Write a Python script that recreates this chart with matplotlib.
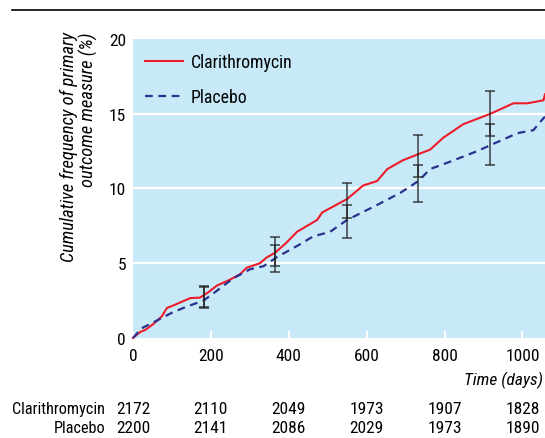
import matplotlib
matplotlib.use('Agg')
import matplotlib.pyplot as plt
from matplotlib import font_manager
from matplotlib.lines import Line2D
import matplotlib.transforms as mtransforms

# data
clar_days = [0, 18, 31, 52, 74, 87, 112, 147, 172, 193, 215, 249, 275, 292, 326, 344, 365,
             395, 421, 473, 486, 550, 591, 627, 653, 694, 733, 763, 797, 848, 918, 977, 1013,
             1054, 1058]
clar_vals = [0, 0.4, 0.53, 0.93, 1.45, 2.0, 2.27, 2.67, 2.7, 3.05, 3.5, 3.9, 4.27, 4.7, 5.0,
             5.4, 5.7, 6.4, 7.1, 7.9, 8.4, 9.3, 10.2, 10.5, 11.3, 11.9, 12.3, 12.6, 13.4, 14.3,
             15.0, 15.7, 15.7, 15.9, 16.3]
plac_days = [0, 22, 44, 69, 103, 138, 181, 215, 258, 301, 335, 369, 429, 463, 506, 550, 627,
             686, 733, 763, 815, 884, 918, 987, 1028, 1054, 1058]
plac_vals = [0, 0.65, 0.93, 1.27, 1.73, 2.1, 2.5, 3.15, 4.0, 4.6, 4.8, 5.4, 6.27, 6.8, 7.1,
             7.9, 8.9, 9.7, 10.5, 11.3, 11.8, 12.5, 12.9, 13.7, 13.9, 14.7, 14.8]

ci_days = [183, 365, 550, 733, 918]
clar_ci_mid = [2.8, 5.8, 9.2, 12.2, 15.0]
clar_ci_lo = [2.1, 4.8, 8.0, 10.8, 13.5]
clar_ci_hi = [3.5, 6.75, 10.4, 13.6, 16.5]
plac_ci_mid = [2.7, 5.3, 7.8, 10.35, 12.9]
plac_ci_lo = [2.0, 4.4, 6.7, 9.1, 11.55]
plac_ci_hi = [3.4, 6.2, 8.9, 11.6, 14.3]

risk_days = [0, 200, 400, 600, 800, 1000]
clar_risk = [2172, 2110, 2049, 1973, 1907, 1828]
plac_risk = [2200, 2141, 2086, 2029, 1973, 1890]

names = {f.name for f in font_manager.fontManager.ttflist}
fams = [f for f in ['Roboto Condensed', 'Archivo Narrow', 'PT Sans Narrow'] if f in names]
plt.rcParams['font.family'] = fams + ['Liberation Sans', 'DejaVu Sans']
fs = 12.5 if fams else 11

red = '#ec1c2a'
blue = '#2b318f'
bg = '#c8e9f8'

fig = plt.figure(figsize=(5.45, 4.39), dpi=100)
ax = fig.add_axes([0.244, 0.2278, 0.756, 0.6811])
ax.set_facecolor(bg)
for s in ax.spines.values():
    s.set_visible(False)

for yv in [5, 10, 15]:
    ax.axhline(yv, color='white', lw=1.6, zorder=1)

ax.plot(clar_days, clar_vals, color=red, lw=1.5, zorder=3, clip_on=False)
ax.plot(plac_days, plac_vals, color=blue, lw=1.6, ls=(0, (3.5, 2.5)), zorder=3, clip_on=False)

for mid, lo, hi in [(clar_ci_mid, clar_ci_lo, clar_ci_hi), (plac_ci_mid, plac_ci_lo, plac_ci_hi)]:
    err = [[m - l for m, l in zip(mid, lo)], [h - m for m, h in zip(mid, hi)]]
    ax.errorbar(ci_days, mid, yerr=err, fmt='none', ecolor='#222222', elinewidth=1.1,
                capsize=3.5, capthick=1.1, alpha=0.85, zorder=4)

ax.set_xlim(0, 1058)
ax.set_ylim(0, 20)
ax.set_xticks(risk_days)
ax.set_yticks([0, 5, 10, 15, 20])
ax.tick_params(axis='x', direction='in', colors='white', length=5, width=1.5, pad=7,
               labelsize=fs, labelcolor='black')
ax.tick_params(axis='y', length=0, pad=5, labelsize=fs)

handles = [Line2D([], [], color=red, lw=1.5),
           Line2D([], [], color=blue, lw=1.6, ls=(0, (3.5, 2.5)))]
ax.legend(handles, ['Clarithromycin', 'Placebo'], loc='upper left', frameon=False,
          fontsize=fs + 0.3, handlelength=2.1, handletextpad=0.45, labelspacing=0.95,
          borderaxespad=0.3, bbox_to_anchor=(0.0, 0.995))

fig.text(0.145, 0.665, 'Cumulative frequency of primary\noutcome measure (%)', rotation=90,
         ha='center', va='center', multialignment='right', fontsize=fs + 0.8,
         style='italic', linespacing=1.1)
fig.text(0.997, 0.134, 'Time (days)', ha='right', va='center', fontsize=fs, style='italic')

trans = mtransforms.blended_transform_factory(ax.transData, fig.transFigure)
fig.text(0.193, 0.068, 'Clarithromycin', ha='right', va='center', fontsize=fs - 0.8)
fig.text(0.193, 0.025, 'Placebo', ha='right', va='center', fontsize=fs - 0.8)
for d, c, p in zip(risk_days, clar_risk, plac_risk):
    ax.text(d, 0.068, str(c), transform=trans, ha='center', va='center', fontsize=fs)
    ax.text(d, 0.025, str(p), transform=trans, ha='center', va='center', fontsize=fs)

fig.add_artist(Line2D([0.022, 1.0], [0.976, 0.976], color='black', lw=1.2,
                      transform=fig.transFigure))

fig.savefig('out.png', dpi=100)
